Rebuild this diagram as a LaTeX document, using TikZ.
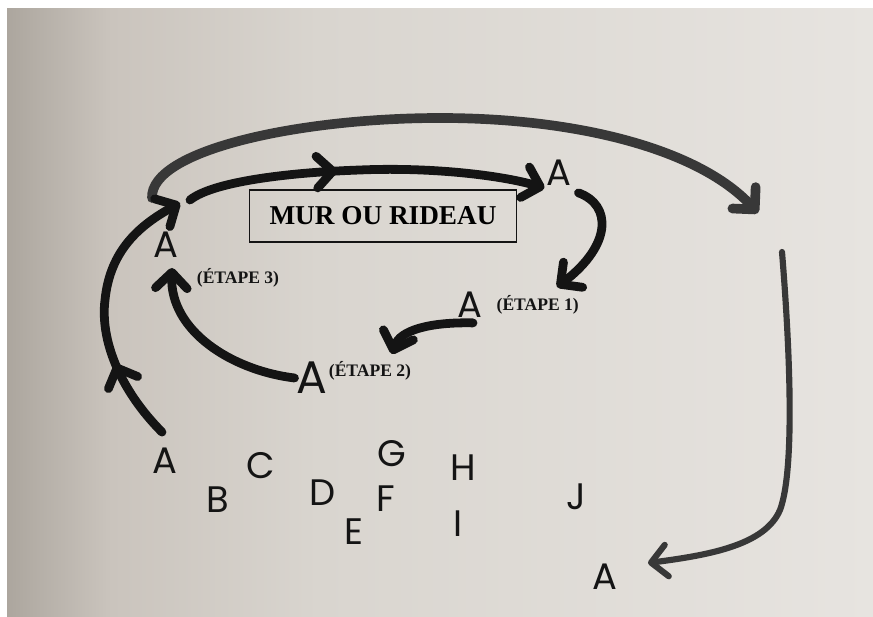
\documentclass[tikz,border=0pt]{standalone}
\usepackage{fontspec}
\setmainfont{Liberation Serif}
\newfontfamily\handfont{Poppins}
\usetikzlibrary{arrows.meta, positioning, calc, decorations.markings}
\definecolor{inkBlack}{gray}{0.08}
\definecolor{inkGray}{gray}{0.22}
\definecolor{paperDark}{RGB}{172,166,158}
\definecolor{paperShade}{RGB}{202,196,189}
\definecolor{paperMid}{RGB}{217,213,207}
\definecolor{paperLight}{RGB}{231,228,224}
\pgfdeclarehorizontalshading{paper}{100bp}{color(0bp)=(paperDark); color(25bp)=(paperDark);
    color(31bp)=(paperShade); color(43bp)=(paperMid); color(75bp)=(paperLight); color(100bp)=(paperLight)}

\begin{document}
\begin{tikzpicture}[x=0.02cm, y=-0.02cm, >={Straight Barb[length=9pt, width=18pt, round]},
    hand/.style={font=\handfont\fontsize{21}{21}\selectfont, text=inkBlack, inner sep=1pt},
    etape/.style={font=\bfseries\fontsize{10}{12}\selectfont, text=inkBlack, inner sep=1pt},
    marker/.style={->, line width=5pt, line cap=round, inkBlack},
    midarrow/.style={postaction={decorate, decoration={markings, mark=at position #1 with {\arrow{>}}}}}]
    % Paper
    \fill[white] (0,0) rectangle (873,617);
    \shade[shading=paper] (7,9) rectangle (873,617);
    \useasboundingbox (0,0) rectangle (873,617);

    % Wall
    \node[draw=inkBlack, line width=0.8pt, minimum width=5.34cm, minimum height=1.04cm,
          font=\bfseries\fontsize{15.5}{15.5}\selectfont] (wall) at (383,216) {MUR OU RIDEAU};

    % Positions of A
    \node[hand] (aTop) at (166,245) {A};
    \node[hand] (aRight) at (559,173) {A};
    \node[hand] (aOne) at (470,305) {A};
    \node[hand, font=\handfont\fontsize{26}{26}\selectfont] (aTwo) at (312,378) {A};
    \node[etape, right=0.2cm of aOne] (eOne) {(ÉTAPE 1)};
    \node[etape] (eTwo) at (370,371) {(ÉTAPE 2)};
    \node[etape] (eThree) at (238,278) {(ÉTAPE 3)};

    % Row of letters
    \node[hand] (aStart) at (165,461) {A};
    \foreach \l/\x/\y in {B/218/500, C/261/466, D/323/493, E/354/532, F/386/499,
                          G/392/454, H/463/468, I/458/524, J/576/497}
        \node[hand] (l\l) at (\x,\y) {\l};
    \node[hand] (aEnd) at (605,577) {A};

    % Free ends
    \coordinate (corner) at (180,203);
    \coordinate (over) at (152,198);
    \coordinate (under) at (190,200);
    \coordinate (tOne) at (557,287);
    \coordinate (tTwo) at (392,354);
    \coordinate (tThree) at (172,268);
    \coordinate (down) at (782,252);
    \coordinate (tEnd) at (648,563);

    % Arrows
    \draw[marker, line width=5.5pt, inkGray] (over) .. controls (150,150) and (300,118) .. (440,118)
        .. controls (580,118) and (700,150) .. (758,213);
    \draw[marker, midarrow=0.42] (under) .. controls (215,180) and (300,172) .. (360,170)
        .. controls (430,167) and (500,175) .. (aRight.south west);
    \draw[marker] ($(aRight.south east)+(5,5)$) .. controls (612,205) and (612,245) .. (tOne);
    \draw[marker] ($(aOne.south)+(3,3)$) .. controls (430,322) and (400,330) .. (tTwo);
    \draw[marker] (aTwo.west) .. controls (230,370) and (170,330) .. (tThree);
    \draw[marker, midarrow=0.3] ($(aStart.north)+(-3,-14)$) .. controls (120,390) and (100,340) .. (105,300)
        .. controls (110,250) and (140,225) .. (corner);
    \draw[marker, line width=3.5pt, inkGray] (down) .. controls (790,350) and (795,470) .. (780,510)
        .. controls (765,545) and (710,555) .. (tEnd);
\end{tikzpicture}
\end{document}
